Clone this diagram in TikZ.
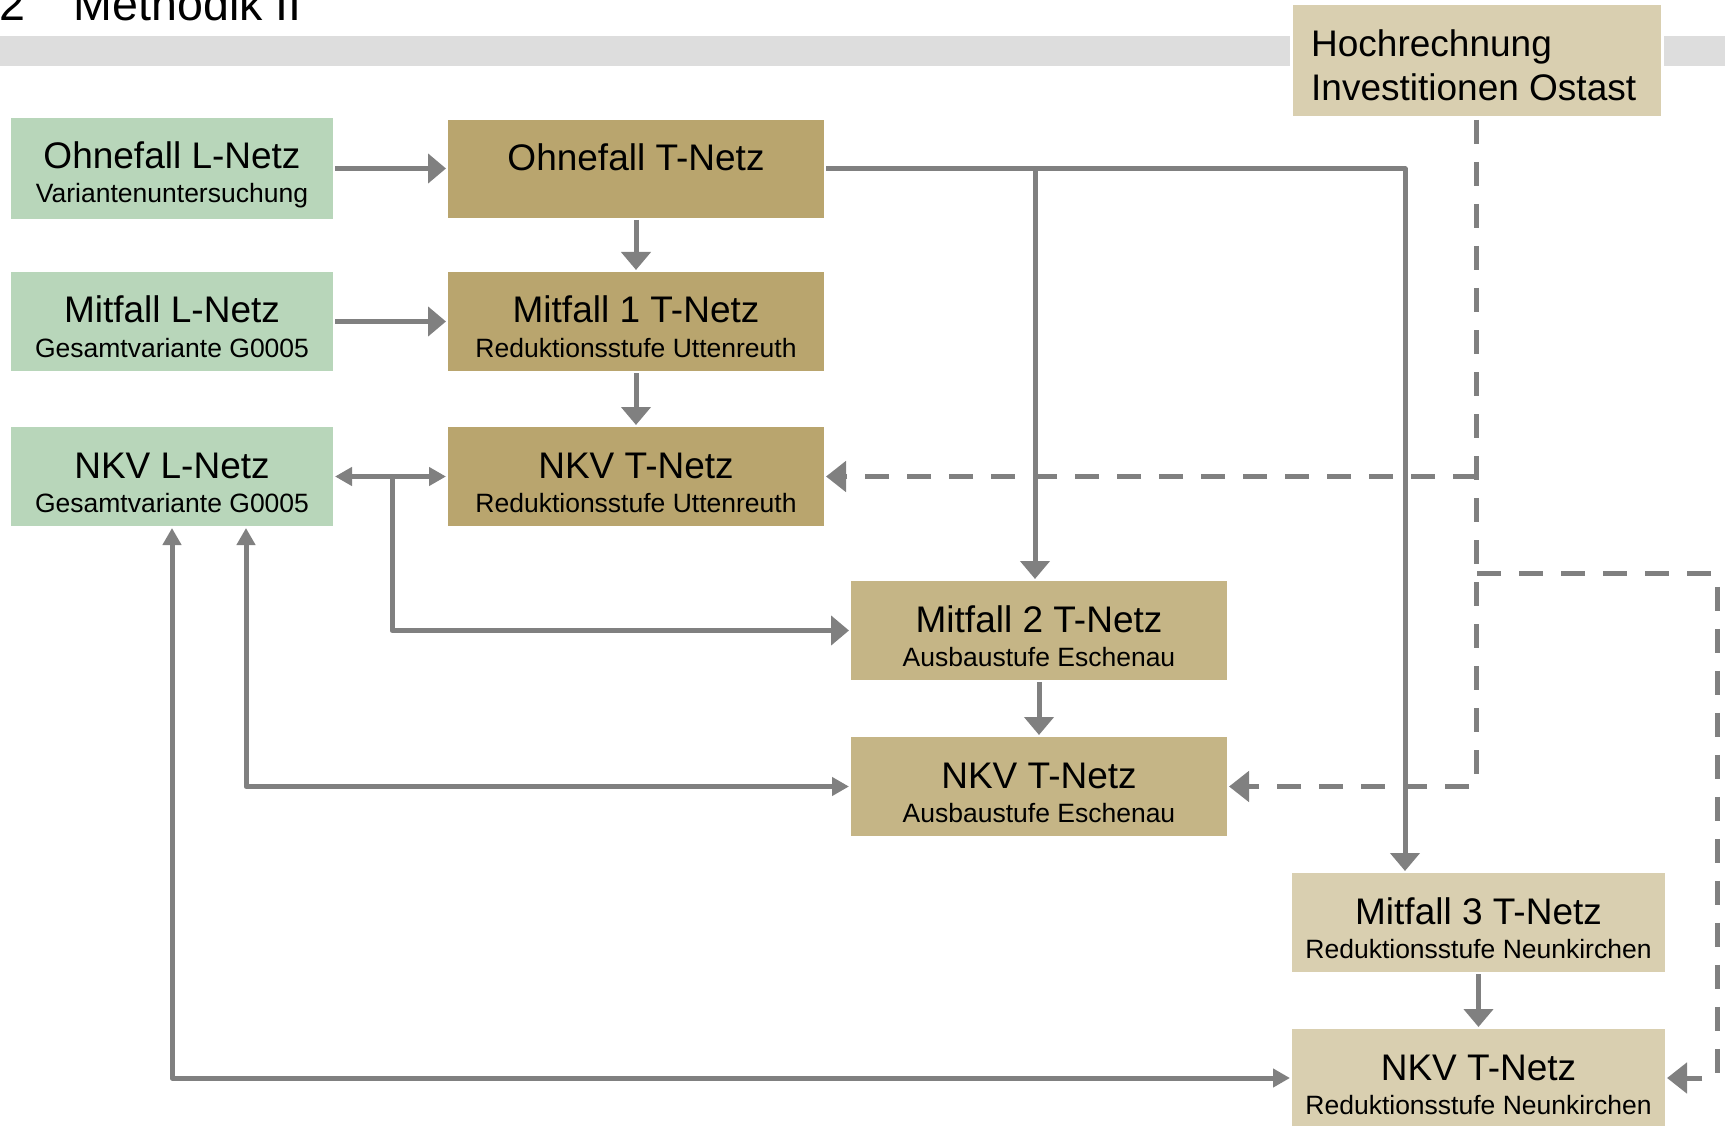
\documentclass[tikz,border=0pt]{standalone}
\usepackage{fontspec}
\setmainfont{Liberation Sans}
\usetikzlibrary{arrows.meta}

\definecolor{boxgreen}{RGB}{184,214,186}
\definecolor{golddark}{RGB}{185,165,110}
\definecolor{goldmid}{RGB}{197,181,134}
\definecolor{goldlight}{RGB}{217,207,176}
\definecolor{linegray}{RGB}{128,128,128}
\definecolor{bandgray}{RGB}{221,221,221}

\tikzset{
  box/.style={rectangle, inner sep=0pt, outer sep=2pt, draw=none},
  lnet/.style={box, fill=boxgreen},
  tnetA/.style={box, fill=golddark},
  tnetB/.style={box, fill=goldmid},
  tnetC/.style={box, fill=goldlight},
  maintext/.style={inner sep=0pt, anchor=base, font=\fontsize{37}{44}\selectfont},
  subtext/.style={inner sep=0pt, anchor=base, font=\fontsize{26.5}{31}\selectfont},
  conn/.style={draw=linegray, line width=5pt, line join=round},
  dline/.style={draw=linegray, line width=5pt, dash pattern=on 24pt off 18pt, rounded corners=4pt},
  bighead/.style={-{Triangle[length=18pt,width=29pt]}},
  dhead/.style={-{Triangle[length=20pt,width=30pt]}},
  twohead/.style={{Triangle[length=17pt,width=18pt]}-{Triangle[length=17pt,width=18pt]}},
}

% box: name, style, left, top, right, bottom, title, subtitle
\newcommand\netbox[8]{%
  \node[#2, minimum width={#5pt-#3pt}, minimum height={#6pt-#4pt}]
    (#1) at ({(#3+#5)/2},{(#4+#6)/2}) {};
  \node[maintext] (#1-a) at ([yshift=-53pt]#1.north) {#7};
  \node[subtext]  (#1-b) at ([yshift=-87pt]#1.north) {#8};
}

\begin{document}
\begin{tikzpicture}[x=1pt,y=-1pt]
\useasboundingbox (0,0) rectangle (1725,1126);

% heading and band
\node[inner sep=0pt, anchor=base west, font=\fontsize{46.6}{52}\selectfont] (num) at (-1,21) {2};
\node[inner sep=0pt, anchor=base west, font=\fontsize{46.6}{52}\selectfont] (ttl) at (73.6,21) {Methodik II};
\fill[bandgray] (0,36) rectangle (1725,66);

% projection box
\node[box, fill=goldlight, draw=white, line width=3pt, minimum width=371pt, minimum height=114pt]
  (hoch) at (1476.5,61) {};
\node[inner sep=0pt, anchor=base west, font=\fontsize{37}{44}\selectfont] (hoch-a) at (1311,57) {Hochrechnung};
\node[inner sep=0pt, anchor=base west, font=\fontsize{37}{44}\selectfont] (hoch-b) at (1311,101) {Investitionen Ostast};

% L-Netz column
\netbox{ohL}{lnet}{11}{118}{333}{219}{Ohnefall L-Netz}{Variantenuntersuchung}
\netbox{mL}{lnet}{11}{272}{333}{371}{Mitfall L-Netz}{Gesamtvariante G0005}
\netbox{nkvL}{lnet}{11}{427}{333}{526}{NKV L-Netz}{Gesamtvariante G0005}

% T-Netz column (Uttenreuth)
\netbox{ohT}{tnetA}{448}{120}{824}{218}{Ohnefall T-Netz}{}
\netbox{mf1}{tnetA}{448}{272}{824}{371}{Mitfall 1 T-Netz}{Reduktionsstufe Uttenreuth}
\netbox{nkvT}{tnetA}{448}{427}{824}{526}{NKV T-Netz}{Reduktionsstufe Uttenreuth}

% Eschenau
\netbox{mf2}{tnetB}{851}{581}{1227}{680}{Mitfall 2 T-Netz}{Ausbaustufe Eschenau}
\netbox{nkvE}{tnetB}{851}{737}{1227}{836}{NKV T-Netz}{Ausbaustufe Eschenau}

% Neunkirchen
\netbox{mf3}{tnetC}{1292}{873}{1665}{972}{Mitfall 3 T-Netz}{Reduktionsstufe Neunkirchen}
\netbox{nkvN}{tnetC}{1292}{1029}{1665}{1127}{NKV T-Netz}{Reduktionsstufe Neunkirchen}

% junction points
\coordinate (j1) at (392,476.5);
\coordinate (k1) at (1035,169);
\coordinate (k2) at (1405,169);
\coordinate (e1) at (246,786.5);
\coordinate (d1) at (1477,476.5);
\coordinate (d2) at (1477,573);
\coordinate (d3) at (1717,573);

% solid connectors
\draw[conn,bighead] (ohL.east) -- (ohL.east -| ohT.west);
\draw[conn,bighead] (mL.east) -- (mf1.west);
\draw[conn,bighead] (ohT.south) -- (mf1.north);
\draw[conn,bighead] (mf1.south) -- (nkvT.north);
\draw[conn,twohead] (nkvL.east) -- (nkvT.west);
\draw[conn,bighead] (j1) |- (mf2.west);
\draw[conn,bighead] (ohT.east) -- (k2) -- (k2 |- mf3.north);
\draw[conn,bighead] (k1) -- (k1 |- mf2.north);
\draw[conn,bighead] (mf2.south) -- (nkvE.north);
\draw[conn,twohead] (e1 |- nkvL.south) -- (e1) -- (nkvE.west);
\draw[conn,twohead] (nkvL.south) |- (nkvN.west);
\draw[conn,bighead] (mf3.south) -- (nkvN.north);

% dashed connectors from the projection
\draw[dline,dhead] (hoch.south) |- (nkvE.east);
\draw[dline,dhead] (d1) -- (nkvT.east);
\draw[dline,dhead] (d2) -- (d3) |- (nkvN.east);
\end{tikzpicture}
\end{document}
